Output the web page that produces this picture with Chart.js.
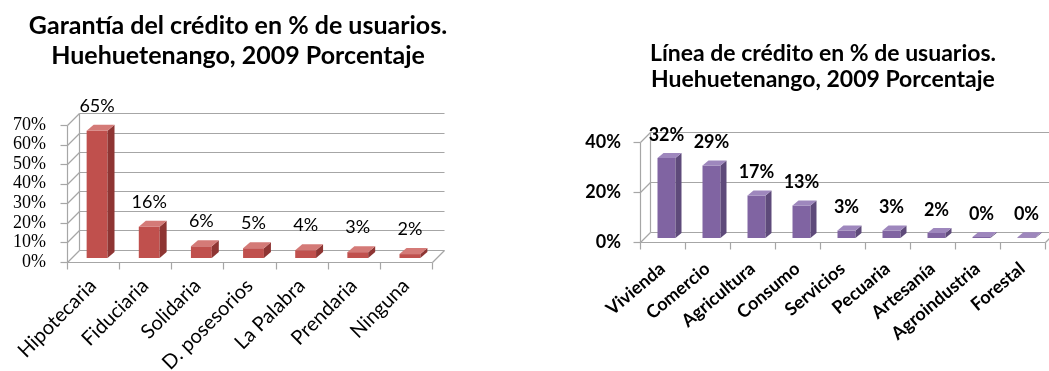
<!DOCTYPE html>
<html lang="es">
<head>
<meta charset="utf-8">
<title>Garantía y línea de crédito - Huehuetenango 2009</title>
<script src="https://cdn.jsdelivr.net/npm/chart.js@4.4.1/dist/chart.umd.min.js"></script>
<style>
    html, body { margin: 0; padding: 0; background: #ffffff; overflow: hidden; }
    body { width: 1049px; height: 371px; position: relative; }
    canvas { position: absolute; top: 0; }
    #garantiaChart { left: 0px; }
    #lineaChart { left: 540px; }
</style>
</head>
<body>
<canvas id="garantiaChart" width="476" height="371"></canvas>
<canvas id="lineaChart" width="566" height="371"></canvas>
<script>
// Datos del gráfico de garantía
const garantiaLabels = ['Hipotecaria', 'Fiduciaria', 'Solidaria', 'D. posesorios', 'La Palabra', 'Prendaria', 'Ninguna'];
const garantiaValues = [65, 16, 6, 5, 4, 3, 2];
const garantiaTitle = ['Garantía del crédito en % de usuarios.', 'Huehuetenango, 2009 Porcentaje'];
const garantiaMax = 70;
const garantiaStep = 10;

// Datos del gráfico de línea de crédito
const lineaLabels = ['Vivienda', 'Comercio', 'Agricultura', 'Consumo', 'Servicios', 'Pecuaria', 'Artesanía', 'Agroindustria', 'Forestal'];
const lineaValues = [32, 29, 17, 13, 3, 3, 2, 0.4, 0.3];
const lineaTitle = ['Línea de crédito en % de usuarios.', 'Huehuetenango, 2009 Porcentaje'];
const lineaMax = 40;
const lineaStep = 20;

// Plugin para simular el efecto 3D de Excel (paredes, piso y caras de las barras)
const bar3d = {
    id: 'bar3d',
    beforeDatasetsDraw(chart, args, o) {
        const ctx = chart.ctx;
        const a = chart.chartArea;
        const x = chart.scales.x;
        const y = chart.scales.y;
        const line = (x1, y1, x2, y2) => {
            ctx.beginPath();
            ctx.moveTo(x1, y1);
            ctx.lineTo(x2, y2);
            ctx.stroke();
        };
        const L = Math.round(a.left) + 0.5;
        const R = Math.round(a.right) + 0.5;
        const B = Math.round(a.bottom) + 0.5;
        const T = Math.round(a.top) + 0.5;
        ctx.save();
        ctx.strokeStyle = o.gridColor;
        ctx.lineWidth = 1.2;
        // pared del fondo y pared izquierda
        y.ticks.forEach(t => {
            const py = Math.round(y.getPixelForValue(t.value)) + 0.5;
            line(L, py, L + o.dx, py - o.dy);
            line(L + o.dx, py - o.dy, R + o.dx, py - o.dy);
            line(L - 7, py, L, py);
        });
        line(L, T, L, B);
        line(L + o.dx, T - o.dy, L + o.dx, B - o.dy);
        // piso
        line(L, B, R, B);
        line(R, B, R + o.dx, B - o.dy);
        // marcas del eje de categorías
        for (let i = 0; i <= chart.data.labels.length; i++) {
            const px = Math.round(x.getPixelForValue(i - 0.5)) + 0.5;
            line(px, B, px, B + 7);
        }
        ctx.restore();
        ctx.save();
        ctx.translate(o.shift, -o.shift);
    },
    afterDatasetsDraw(chart, args, o) {
        const ctx = chart.ctx;
        const meta = chart.getDatasetMeta(0);
        const values = chart.data.datasets[0].data;
        meta.data.forEach((el, i) => {
            const p = el.getProps(['x', 'y', 'base', 'width'], true);
            const l = p.x - p.width / 2;
            const r = p.x + p.width / 2;
            // cara lateral
            ctx.fillStyle = o.side;
            ctx.beginPath();
            ctx.moveTo(r, p.y);
            ctx.lineTo(r + o.bx, p.y - o.by);
            ctx.lineTo(r + o.bx, p.base - o.by);
            ctx.lineTo(r, p.base);
            ctx.closePath();
            ctx.fill();
            // cara superior
            ctx.fillStyle = o.top;
            ctx.beginPath();
            ctx.moveTo(l, p.y);
            ctx.lineTo(l + o.bx, p.y - o.by);
            ctx.lineTo(r + o.bx, p.y - o.by);
            ctx.lineTo(r, p.y);
            ctx.closePath();
            ctx.fill();
            // etiqueta de datos
            ctx.fillStyle = '#000000';
            ctx.font = o.labelFont;
            ctx.textAlign = 'center';
            ctx.textBaseline = 'alphabetic';
            ctx.fillText(Math.round(values[i]) + '%', p.x, p.y - o.labelGap);
        });
        ctx.restore();
    }
};

function makeChart(canvasId, labels, values, title, yMax, yStep, cfg) {
    const ctx = document.getElementById(canvasId).getContext('2d');
    return new Chart(ctx, {
        type: 'bar',
        data: {
            labels: labels,
            datasets: [{
                data: values,
                backgroundColor: cfg.front,
                borderWidth: 0,
                categoryPercentage: 1,
                barPercentage: 0.4
            }]
        },
        options: {
            responsive: false,
            animation: false,
            layout: { padding: 0 },
            plugins: {
                legend: { display: false },
                tooltip: { enabled: false },
                title: {
                    display: true,
                    text: title,
                    color: '#000000',
                    font: cfg.titleFont,
                    padding: cfg.titlePadding
                },
                bar3d: cfg.depth
            },
            scales: {
                x: {
                    grid: { display: false, drawTicks: false },
                    border: { display: false },
                    ticks: {
                        color: '#000000',
                        font: cfg.xFont,
                        autoSkip: false,
                        minRotation: cfg.rotation,
                        maxRotation: cfg.rotation,
                        padding: cfg.xPadding
                    },
                    afterFit: s => { s.height = cfg.xHeight; }
                },
                y: {
                    min: 0,
                    max: yMax,
                    grid: { display: false, drawTicks: false },
                    border: { display: false },
                    ticks: {
                        stepSize: yStep,
                        autoSkip: false,
                        color: '#000000',
                        font: cfg.yFont,
                        padding: cfg.yPadding,
                        callback: v => v + '%'
                    },
                    afterFit: s => { s.width = cfg.yWidth; }
                },
                // eje vacío a la derecha: deja el espacio de la pared 3D y mantiene el título centrado
                margen: {
                    position: 'right',
                    grid: { display: false, drawTicks: false },
                    border: { display: false },
                    ticks: { display: false },
                    afterFit: s => { s.width = cfg.rightSpace; }
                }
            }
        },
        plugins: [bar3d]
    });
}

makeChart('garantiaChart', garantiaLabels, garantiaValues, garantiaTitle, garantiaMax, garantiaStep, {
    front: '#C0504D',
    rightSpace: 44,
    titleFont: { family: 'Lato', size: 25, weight: 'bold', lineHeight: 1.2 },
    titlePadding: { top: 11, bottom: 54 },
    xFont: { family: 'Lato', size: 20 },
    yFont: { family: 'Liberation Serif', size: 18 },
    rotation: 45,
    xPadding: 12,
    xHeight: 109,
    yPadding: 21,
    yWidth: 67,
    depth: {
        gridColor: '#A6A6A6', dx: 12, dy: 12, shift: 4,
        side: '#8E3533', top: '#D47A77', bx: 7, by: 6,
        labelFont: '18px Lato', labelGap: 19
    }
});

makeChart('lineaChart', lineaLabels, lineaValues, lineaTitle, lineaMax, lineaStep, {
    front: '#8064A2',
    rightSpace: 61,
    titleFont: { family: 'Lato', size: 23, weight: 'bold', lineHeight: 1.13 },
    titlePadding: { top: 41, bottom: 49 },
    xFont: { family: 'Lato', size: 18, weight: 'bold' },
    yFont: { family: 'Lato', size: 18, weight: 'bold' },
    rotation: 40,
    xPadding: 16,
    xHeight: 129,
    yPadding: 19,
    yWidth: 100,
    depth: {
        gridColor: '#A6A6A6', dx: 10, dy: 10, shift: 4,
        side: '#5E4A7A', top: '#9E87BD', bx: 6, by: 5,
        labelFont: 'bold 18px Lato', labelGap: 17
    }
});
</script>
</body>
</html>
